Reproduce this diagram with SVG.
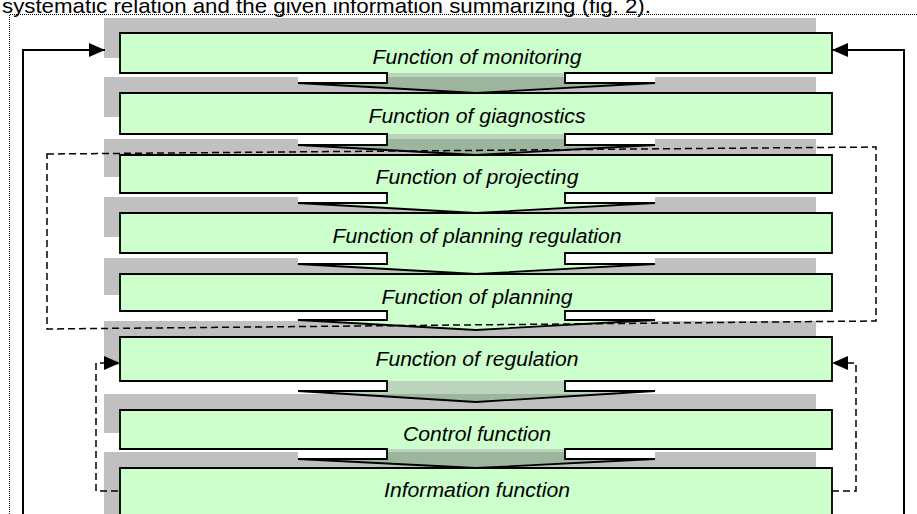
<svg xmlns="http://www.w3.org/2000/svg" width="917" height="514" viewBox="0 0 917 514">
<defs>
<style>
.shadow{fill:#c0c0c0}
.box{fill:#ccffcc}
.tab{fill:#ffffff}
.arr{fill:#ccffcc}
.arrt{fill:#78aa78;fill-opacity:0.5}
.outline{fill:none;stroke:#000;stroke-width:1.8;stroke-linejoin:miter}
.lbl{font-family:"Liberation Sans",Arial,sans-serif;font-style:italic;font-size:19.5px;text-anchor:middle;fill:#000}
.title{font-family:"Liberation Sans",Arial,sans-serif;font-size:21px;fill:#000}
.solid{fill:none;stroke:#000;stroke-width:2}
.dash{fill:none;stroke:#000;stroke-width:1.5;stroke-dasharray:7 4}
.dot{fill:none;stroke:#000;stroke-width:1;stroke-dasharray:1 1}
</style>
<marker id="ah" viewBox="0 0 16 14" refX="16" refY="7" markerWidth="16" markerHeight="14" markerUnits="userSpaceOnUse" orient="auto">
<path d="M0,0 L16,7 L0,14 Z" fill="#000"/>
</marker>
</defs>
<rect width="917" height="514" fill="#fff"/>
<text class="title" x="2" y="12.5" textLength="649" lengthAdjust="spacingAndGlyphs">systematic relation and the given information summarizing (fig. 2).</text>
<path class="dot" d="M9.5,514 V14.5 H917"/>

<g id="n8">
<rect class="shadow" x="104" y="452" width="712" height="62"/>
<rect class="box" x="120" y="468" width="712" height="52"/>
<path class="outline" d="M120,520 V468 H832 V520"/>
<text class="lbl" x="477" y="497" textLength="186" lengthAdjust="spacingAndGlyphs">Information function</text>
</g>
<g id="n7">
<rect class="shadow" x="104" y="394" width="712" height="39"/>
<rect class="box" x="120" y="410" width="712" height="39"/>
<rect class="tab" x="298" y="449" width="89" height="10"/><rect class="tab" x="565" y="449" width="90" height="10"/>
<polygon class="arrt" points="387,449 565,449 565,459 655,459 476,468 298,459 387,459"/>
<path class="outline" d="M120,410 H832 V449 H565 V459 H655 L476,468 L298,459 H387 V449 H120 Z"/>
<text class="lbl" x="477" y="441" textLength="148" lengthAdjust="spacingAndGlyphs">Control function</text>
</g>
<g id="n6">
<rect class="shadow" x="104" y="321" width="712" height="44"/>
<rect class="box" x="120" y="337" width="712" height="44"/>
<rect class="tab" x="298" y="381" width="89" height="10"/><rect class="tab" x="565" y="381" width="90" height="10"/>
<polygon class="arrt" points="387,381 565,381 565,391 655,391 476,402 298,391 387,391"/>
<path class="outline" d="M120,337 H832 V381 H565 V391 H655 L476,402 L298,391 H387 V381 H120 Z"/>
<text class="lbl" x="477" y="366" textLength="203" lengthAdjust="spacingAndGlyphs">Function of regulation</text>
</g>
<g id="n5">
<rect class="shadow" x="104" y="258" width="712" height="37"/>
<rect class="box" x="120" y="274" width="712" height="37"/>
<rect class="tab" x="298" y="311" width="89" height="9"/><rect class="tab" x="565" y="311" width="90" height="9"/>
<polygon class="arr" points="387,311 565,311 565,320 655,320 476,330 298,320 387,320"/>
<path class="outline" d="M120,274 H832 V311 H565 V320 H655 L476,330 L298,320 H387 V311 H120 Z"/>
<text class="lbl" x="477" y="304" textLength="191" lengthAdjust="spacingAndGlyphs">Function of planning</text>
</g>
<g id="n4">
<rect class="shadow" x="104" y="197" width="712" height="40"/>
<rect class="box" x="120" y="213" width="712" height="40"/>
<rect class="tab" x="298" y="253" width="89" height="11"/><rect class="tab" x="565" y="253" width="90" height="11"/>
<polygon class="arr" points="387,253 565,253 565,264 655,264 476,274 298,264 387,264"/>
<path class="outline" d="M120,213 H832 V253 H565 V264 H655 L476,274 L298,264 H387 V253 H120 Z"/>
<text class="lbl" x="477" y="243" textLength="289" lengthAdjust="spacingAndGlyphs">Function of planning regulation</text>
</g>
<g id="n3">
<rect class="shadow" x="104" y="139" width="712" height="38"/>
<rect class="box" x="120" y="155" width="712" height="38"/>
<rect class="tab" x="298" y="193" width="89" height="10"/><rect class="tab" x="565" y="193" width="90" height="10"/>
<polygon class="arr" points="387,193 565,193 565,203 655,203 476,213 298,203 387,203"/>
<path class="outline" d="M120,155 H832 V193 H565 V203 H655 L476,213 L298,203 H387 V193 H120 Z"/>
<text class="lbl" x="477" y="184" textLength="203" lengthAdjust="spacingAndGlyphs">Function of projecting</text>
</g>
<g id="n2">
<rect class="shadow" x="104" y="77" width="712" height="40"/>
<rect class="box" x="120" y="93" width="712" height="41"/>
<rect class="tab" x="298" y="134" width="89" height="11"/><rect class="tab" x="565" y="134" width="90" height="11"/>
<polygon class="arrt" points="387,134 565,134 565,145 655,145 476,155 298,145 387,145"/>
<path class="outline" d="M120,93 H832 V134 H565 V145 H655 L476,155 L298,145 H387 V134 H120 Z"/>
<text class="lbl" x="477" y="123" textLength="217" lengthAdjust="spacingAndGlyphs">Function of giagnostics</text>
</g>
<g id="n1">
<rect class="shadow" x="104" y="18" width="712" height="40"/>
<rect class="box" x="120" y="33" width="712" height="40"/>
<rect class="tab" x="298" y="73" width="89" height="10"/><rect class="tab" x="565" y="73" width="90" height="10"/>
<polygon class="arrt" points="387,73 565,73 565,83 655,83 476,93 298,83 387,83"/>
<path class="outline" d="M120,33 H832 V73 H565 V83 H655 L476,93 L298,83 H387 V73 H120 Z"/>
<text class="lbl" x="477" y="64" textLength="209" lengthAdjust="spacingAndGlyphs">Function of monitoring</text>
</g>

<g id="connectors">
<path class="solid" d="M23,514 V50 H105" marker-end="url(#ah)"/>
<path class="solid" d="M904,514 V50 H832" marker-end="url(#ah)"/>
<polygon class="dash" points="47,154 876,147 876,321 47,329"/>
<path class="dash" d="M118,491 H96 V363 H120" marker-end="url(#ah)"/>
<path class="dash" d="M832,491 H856 V363 H832" marker-end="url(#ah)"/>
</g>
</svg>
